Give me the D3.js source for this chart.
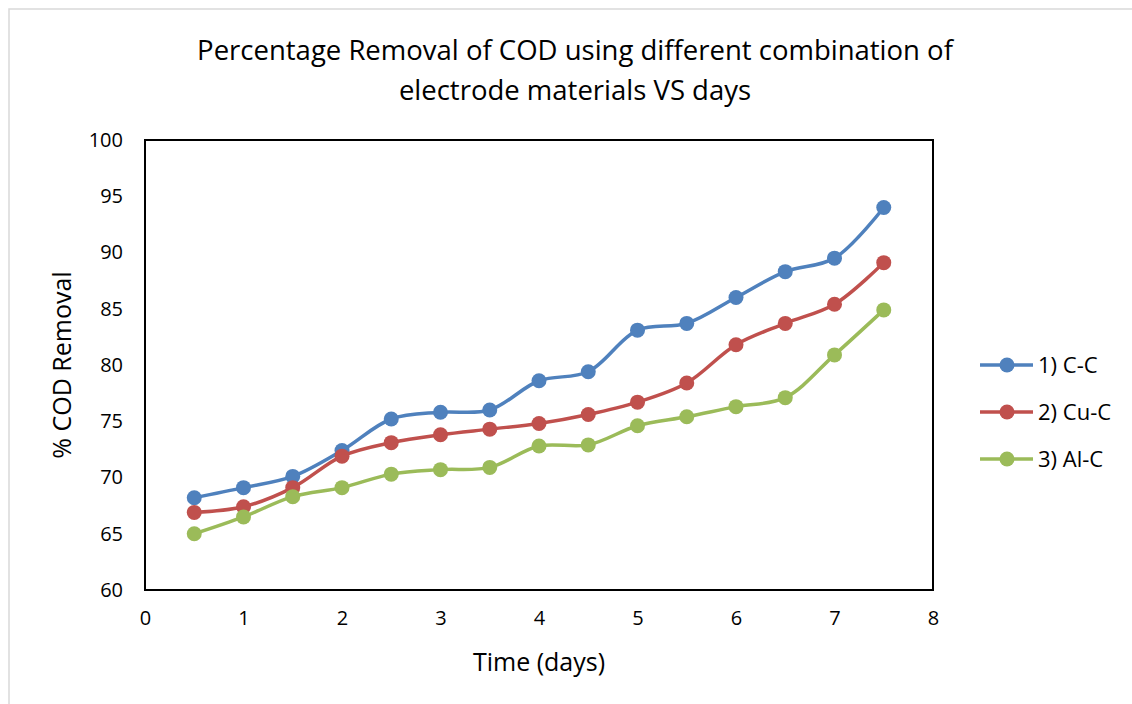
<!DOCTYPE html>
<meta charset="utf-8">
<style>
body { margin: 0; background: #fff; font-family: 'Open Sans', 'Liberation Sans', sans-serif; }
</style>
<svg id="chart" width="1132" height="704"></svg>
<script src="https://cdn.jsdelivr.net/npm/d3@7"></script>
<script>

var days = [0.5, 1, 1.5, 2, 2.5, 3, 3.5, 4, 4.5, 5, 5.5, 6, 6.5, 7, 7.5];
var ccValues = [68.2, 69.1, 70.1, 72.4, 75.2, 75.8, 76.0, 78.6, 79.4, 83.1, 83.7, 86.0, 88.3, 89.5, 94.0];
var cuValues = [66.9, 67.4, 69.1, 71.9, 73.1, 73.8, 74.3, 74.8, 75.6, 76.7, 78.4, 81.8, 83.7, 85.4, 89.1];
var alValues = [65.0, 66.5, 68.3, 69.1, 70.3, 70.7, 70.9, 72.8, 72.9, 74.6, 75.4, 76.3, 77.1, 80.9, 84.9];
var seriesNames = ["1) C-C", "2) Cu-C", "3) Al-C"];
var xTicks = [0, 1, 2, 3, 4, 5, 6, 7, 8];
var yTicks = [60, 65, 70, 75, 80, 85, 90, 95, 100];

var colors = ["#4F81BD", "#C0504D", "#9BBB59"];
var series = [ccValues, cuValues, alValues].map(function(vals, i) {
  return { name: seriesNames[i], color: colors[i],
           points: days.map(function(d, j) { return { x: d, y: vals[j] }; }) };
});

var svg = d3.select("#chart");

// outer chart border
svg.append("rect")
  .attr("x", 9).attr("y", 9)
  .attr("width", 1140).attr("height", 720)
  .attr("fill", "none")
  .attr("stroke", "#d9d9d9")
  .attr("stroke-width", 1.5);

var plotLeft = 145, plotRight = 933, plotTop = 140, plotBottom = 590;

var x = d3.scaleLinear().domain([0, 8]).range([plotLeft, plotRight]);
var y = d3.scaleLinear().domain([60, 100]).range([plotBottom, plotTop]);

// title
var title = svg.append("text")
  .attr("text-anchor", "middle")
  .attr("font-size", 27.5)
  .attr("fill", "#000");
title.append("tspan").attr("x", 575).attr("y", 60)
  .text("Percentage Removal of COD using different combination of");
title.append("tspan").attr("x", 575).attr("y", 100)
  .text("electrode materials VS days");

// axes (labels only, no tick marks)
var xAxis = svg.append("g")
  .attr("transform", "translate(0," + plotBottom + ")")
  .call(d3.axisBottom(x).tickValues(xTicks).tickSize(0).tickPadding(21));
var yAxis = svg.append("g")
  .attr("transform", "translate(" + plotLeft + ",0)")
  .call(d3.axisLeft(y).tickValues(yTicks).tickSize(0).tickPadding(22));
[xAxis, yAxis].forEach(function(g) {
  g.select(".domain").remove();
  g.selectAll("text")
    .attr("font-size", 20)
    .attr("font-family", "'Open Sans', 'Liberation Sans', sans-serif")
    .attr("fill", "#000");
});

// plot frame
svg.append("rect")
  .attr("x", plotLeft).attr("y", plotTop)
  .attr("width", plotRight - plotLeft).attr("height", plotBottom - plotTop)
  .attr("fill", "none")
  .attr("stroke", "#000")
  .attr("stroke-width", 2);

// axis titles
svg.append("text")
  .attr("x", 539).attr("y", 671)
  .attr("text-anchor", "middle")
  .attr("font-size", 25)
  .text("Time (days)");
svg.append("text")
  .attr("transform", "translate(71,365) rotate(-90)")
  .attr("text-anchor", "middle")
  .attr("font-size", 25)
  .text("% COD Removal");

var line = d3.line()
  .x(function(d) { return x(d.x); })
  .y(function(d) { return y(d.y); })
  .curve(d3.curveCatmullRom.alpha(0.5));

var sg = svg.selectAll(".series")
  .data(series)
  .enter().append("g")
  .attr("class", "series");

sg.append("path")
  .attr("d", function(d) { return line(d.points); })
  .attr("fill", "none")
  .attr("stroke", function(d) { return d.color; })
  .attr("stroke-width", 3.5);

sg.selectAll("circle")
  .data(function(d) { return d.points.map(function(p) { return { p: p, c: d.color }; }); })
  .enter().append("circle")
  .attr("cx", function(d) { return x(d.p.x); })
  .attr("cy", function(d) { return y(d.p.y); })
  .attr("r", 7.5)
  .attr("fill", function(d) { return d.c; });

// legend
var legend = svg.selectAll(".legend")
  .data(series)
  .enter().append("g")
  .attr("class", "legend")
  .attr("transform", function(d, i) { return "translate(980," + (365 + i * 47) + ")"; });
legend.append("line")
  .attr("x1", 0).attr("x2", 53)
  .attr("stroke", function(d) { return d.color; })
  .attr("stroke-width", 3.5);
legend.append("circle")
  .attr("cx", 27).attr("r", 7.5)
  .attr("fill", function(d) { return d.color; });
legend.append("text")
  .attr("x", 58).attr("y", 8)
  .attr("font-size", 22)
  .text(function(d) { return d.name; });

</script>
